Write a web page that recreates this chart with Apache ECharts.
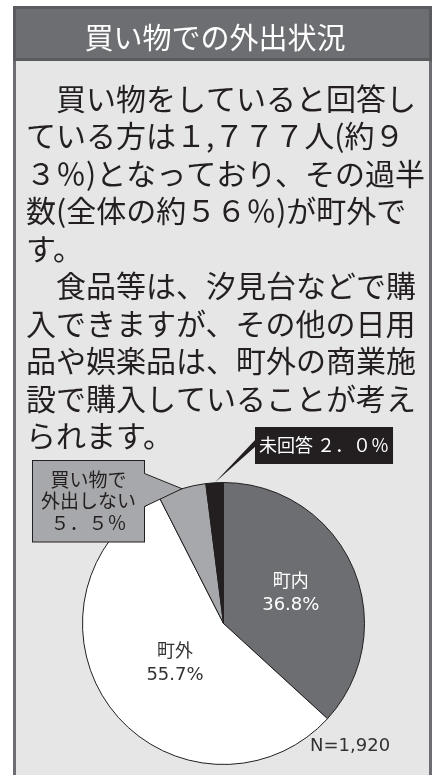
<!DOCTYPE html>
<html>
<head>
<meta charset="utf-8">
<script src="https://cdn.jsdelivr.net/npm/echarts@6/dist/echarts.min.js"></script>
<style>
html,body{margin:0;padding:0;background:#ffffff;}
#chart{width:438px;height:775px;}
</style>
</head>
<body>
<div id="chart"></div>
<script>
// ---- data ----
const titleText = '買い物での外出状況';
const bodyLines = [
  '　買い物をしていると回答し',
  'ている方は１,７７７人(約９',
  '３％)となっており、その過半',
  '数(全体の約５６％)が町外で',
  'す。',
  '　食品等は、汐見台などで購',
  '入できますが、その他の日用',
  '品や娯楽品は、町外の商業施',
  '設で購入していることが考え',
  'られます。'
];
const categories = ['町内', '町外', '買い物で外出しない', '未回答'];
const labelNames = ['町内', '町外', '買い物で\n外出しない', '未回答'];
const shares = [36.8, 55.7, 5.5, 2.0];
const sampleSize = '1,920';

// ---- styles ----
const sliceColors = ['#6d6e72', '#ffffff', '#a7a8ab', '#231f20'];
const ink = '#231f20';
const jp = "'Noto Sans CJK JP', sans-serif";
const latin = "'DejaVu Sans', 'Noto Sans CJK JP', sans-serif";
const pieCx = 223.5, pieCy = 623.5, pieR = 141;

function fw(s) {
  return s.replace(/[0-9.%]/g, function (c) {
    if (c === '.') return '．';
    if (c === '%') return '％';
    return String.fromCharCode(c.charCodeAt(0) + 0xFEE0);
  });
}

const chart = echarts.init(document.getElementById('chart'), null, {renderer: 'canvas'});

// pointer tips derived from the data (mid-angle of a slice on the rim)
const total = shares.reduce((a, b) => a + b, 0);
function rimPoint(idx) {
  let before = 0;
  for (let i = 0; i < idx; i++) before += shares[i];
  const frac = (before + shares[idx] / 2) / total;
  const a = frac * Math.PI * 2; // clockwise from 12 o'clock
  return [pieCx + pieR * Math.sin(a), pieCy - pieR * Math.cos(a)];
}
const tipGray = rimPoint(2);
const tipBlack = rimPoint(3);

const graphics = [
  // frame body
  {type: 'rect', z: 0, shape: {x: 14.5, y: 7.5, width: 416, height: 800},
   style: {fill: '#e6e6e6', stroke: '#6d6e72', lineWidth: 3}},
  // title bar
  {type: 'rect', z: 0, shape: {x: 14.5, y: 7.5, width: 416, height: 52},
   style: {fill: '#6d6e72', stroke: '#5a5b5f', lineWidth: 3}},
  {type: 'text', z: 1, x: 215, y: 38,
   style: {text: titleText, fill: '#ffffff', font: "29px 'Noto Sans CJK JP'", textAlign: 'center', textVerticalAlign: 'middle'}},
  // gray callout pointer
  {type: 'polygon', z: 5,
   shape: {points: [[141.5, 473.5], [144.5, 473.5], tipGray, [144.5, 506.5], [141.5, 506.5]]},
   style: {fill: '#a7a8ab'}},
  {type: 'polyline', z: 5,
   shape: {points: [[144.5, 473.5], tipGray, [144.5, 506.5]]},
   style: {stroke: ink, lineWidth: 1, fill: null}},
  // black callout pointer
  {type: 'polygon', z: 5,
   shape: {points: [[256, 439], tipBlack, [256, 446]]},
   style: {fill: ink}}
];
bodyLines.forEach(function (line, i) {
  graphics.push({type: 'text', z: 1, x: 26, y: 98.5 + 37.5 * i,
    style: {text: line, fill: ink, font: "30px 'Noto Sans CJK JP'", textAlign: 'left', textVerticalAlign: 'middle'}});
});

const pieData = categories.map(function (name, i) {
  const item = {name: name, value: shares[i], itemStyle: {color: sliceColors[i]}};
  if (i === 0) {
    item.label = {position: 'inside', color: '#ffffff', fontFamily: latin, fontSize: 18, lineHeight: 23};
  } else if (i === 1) {
    item.label = {position: 'inside', color: '#333333', fontFamily: latin, fontSize: 18, lineHeight: 23};
  } else if (i === 2) {
    item.label = {position: 'outside', color: ink, fontFamily: jp, fontSize: 19, lineHeight: 21.5,
      backgroundColor: '#a7a8ab', borderColor: ink, borderWidth: 1, padding: [8, 4, 8, 4], width: 103, height: 64.5};
    item.labelLine = {show: false};
  } else {
    item.label = {position: 'outside', color: '#ffffff', fontFamily: jp, fontSize: 18, lineHeight: 25,
      backgroundColor: ink, padding: [6, 4, 6, 4]};
    item.labelLine = {show: false};
  }
  return item;
});

const option = {
  animation: false,
  title: {
    text: 'N=' + sampleSize, left: 310, top: 737, padding: 0,
    textStyle: {color: '#333333', fontFamily: latin, fontSize: 18, fontWeight: 'normal'}
  },
  graphic: {elements: graphics},
  series: [{
    type: 'pie',
    z: 2,
    center: [pieCx, pieCy],
    radius: pieR,
    startAngle: 90,
    clockwise: true,
    avoidLabelOverlap: false,
    emphasis: {disabled: true},
    itemStyle: {borderColor: ink, borderWidth: 1},
    label: {
      show: true,
      formatter: function (p) {
        const i = p.dataIndex;
        if (i < 2) return labelNames[i] + '\n' + p.value.toFixed(1) + '%';
        if (i === 2) return labelNames[i] + '\n' + fw(p.value.toFixed(1) + '%');
        return labelNames[i] + ' ' + fw(p.value.toFixed(1) + '%');
      }
    },
    labelLayout: function (params) {
      const i = params.dataIndex;
      if (i === 1) return {dx: 10, dy: -4};
      if (i === 2) return {x: 88.5, y: 461, align: 'center', verticalAlign: 'top'};
      if (i === 3) return {x: 255, y: 427, align: 'left', verticalAlign: 'top'};
      return {};
    },
    data: pieData
  }]
};
chart.setOption(option);
</script>
</body>
</html>
